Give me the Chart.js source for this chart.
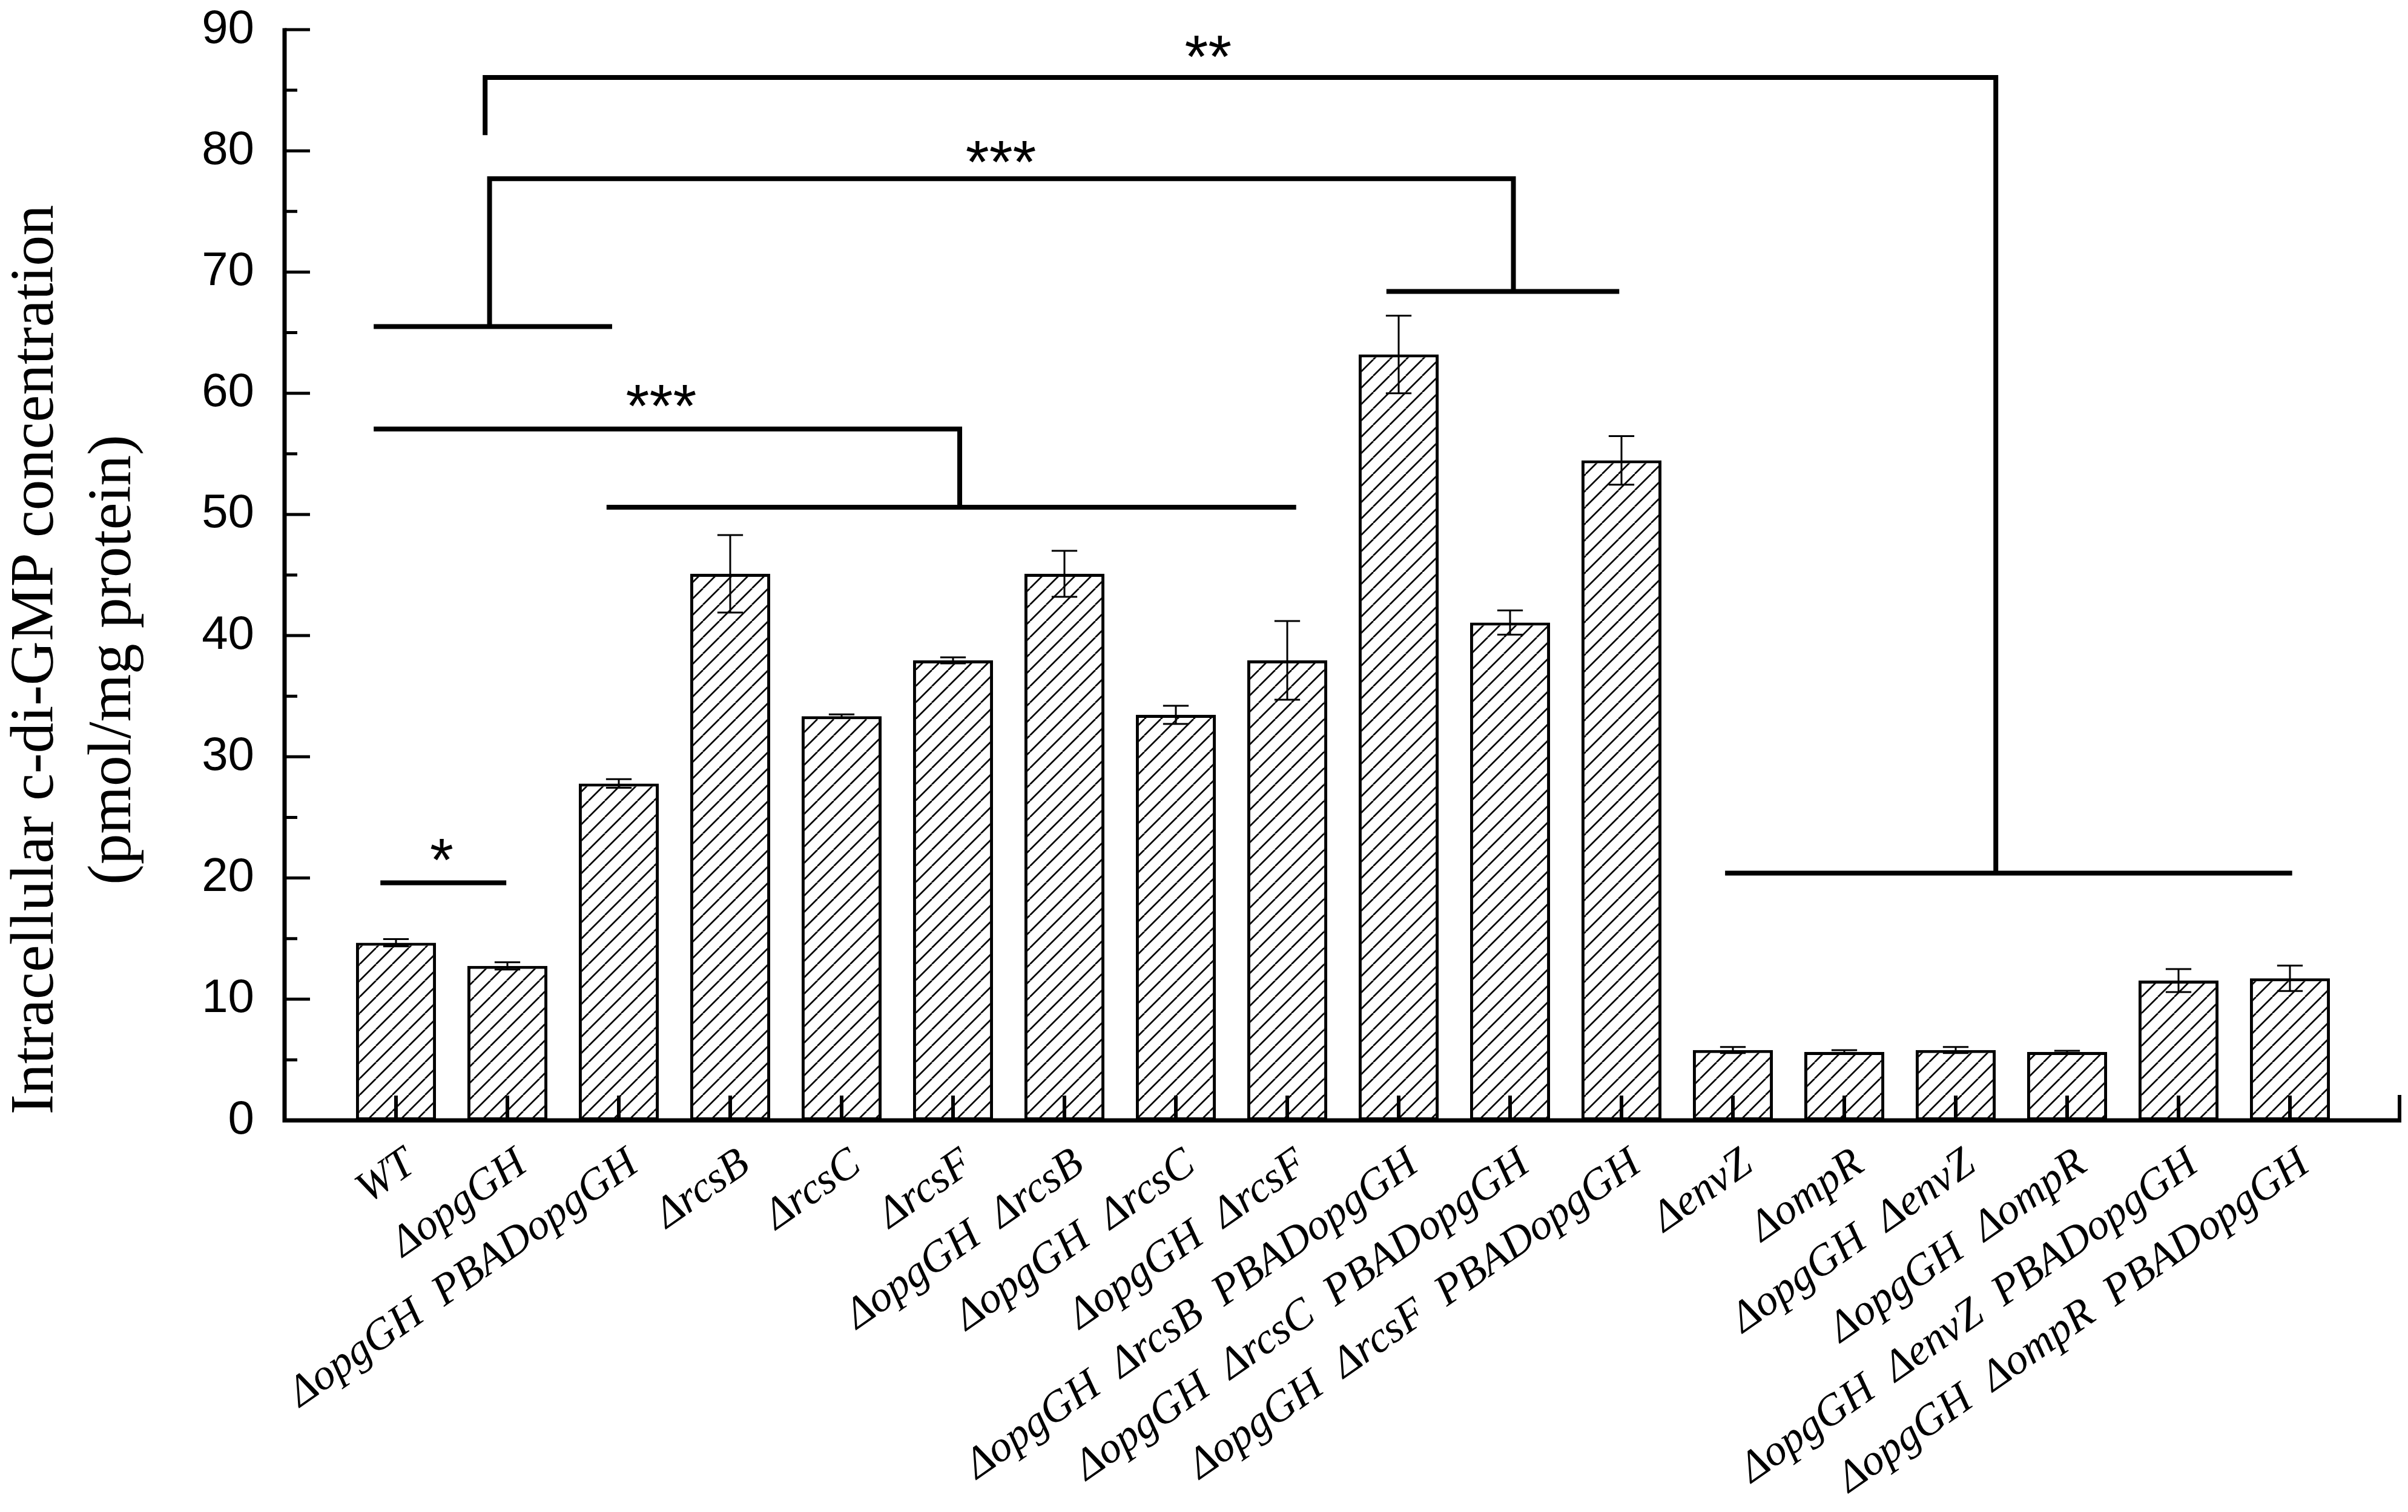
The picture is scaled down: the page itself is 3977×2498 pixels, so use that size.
<!DOCTYPE html>
<html><head><meta charset="utf-8">
<script src="https://cdn.jsdelivr.net/npm/chart.js@4.4.1/dist/chart.umd.min.js"></script>
<style>html,body{margin:0;padding:0;background:#fff;} #wrap{width:3977px;height:2498px;}</style>
</head><body>
<div id="wrap"><canvas id="c" width="3977" height="2498"></canvas></div>
<script>
// ---------- data ----------
const categories = ["WT","ΔopgGH","ΔopgGH  PBADopgGH","ΔrcsB","ΔrcsC","ΔrcsF",
  "ΔopgGH  ΔrcsB","ΔopgGH  ΔrcsC","ΔopgGH  ΔrcsF",
  "ΔopgGH  ΔrcsB  PBADopgGH","ΔopgGH  ΔrcsC  PBADopgGH","ΔopgGH  ΔrcsF  PBADopgGH",
  "ΔenvZ","ΔompR","ΔopgGH  ΔenvZ","ΔopgGH  ΔompR",
  "ΔopgGH  ΔenvZ  PBADopgGH","ΔopgGH  ΔompR  PBADopgGH"];
const means  = [14.66,12.75,27.8,45.1,33.35,37.96,45.1,33.46,37.96,63.2,41.08,54.46,5.81,5.64,5.81,5.64,11.54,11.72];
const errors = [0.3,0.3,0.35,3.2,0.15,0.25,1.9,0.75,3.25,3.2,1.0,2.0,0.25,0.15,0.25,0.1,0.95,1.05];
const yTitleLines = ["Intracellular c-di-GMP concentration","(pmol/mg protein)"];
// significance brackets: polylines in (category index, value) units
const brackets = [
  [[-0.14,19.6],[0.99,19.6]],
  [[-0.2,57.05],[5.06,57.05],[5.06,50.6]],
  [[1.89,50.6],[8.08,50.6]],
  [[-0.2,65.5],[1.94,65.5]],
  [[0.84,65.5],[0.84,77.7],[10.03,77.7],[10.03,68.4]],
  [[8.89,68.4],[10.98,68.4]],
  [[0.80,81.3],[0.80,86.05],[14.36,86.05],[14.36,20.4]],
  [[11.93,20.4],[17.02,20.4]]
];
const sigLabels = [
  {text:"*",   x:0.41, y:22.6},
  {text:"***", x:2.38, y:60.1},
  {text:"***", x:5.43, y:80.2},
  {text:"**",  x:7.29, y:88.9}
];

// ---------- hatch pattern ----------
function makeHatch(){
  const s = 27, c = document.createElement('canvas');
  c.width = s; c.height = s;
  const g = c.getContext('2d');
  g.fillStyle = '#fff'; g.fillRect(0,0,s,s);
  g.strokeStyle = '#000'; g.lineWidth = 2.7;
  g.beginPath();
  for (let k=-1;k<=1;k++){ g.moveTo(k*s, s); g.lineTo(k*s+s, 0); }
  g.stroke();
  return document.getElementById('c').getContext('2d').createPattern(c,'repeat');
}

// ---------- decorations plugin ----------
const deco = {
  id:'deco',
  afterDatasetsDraw(chart){
    const ctx = chart.ctx, xs = chart.scales.x, ys = chart.scales.y, ca = chart.chartArea;
    const meta = chart.getDatasetMeta(0);
    ctx.save();
    ctx.strokeStyle = '#000'; ctx.fillStyle = '#000';
    // error bars
    ctx.lineWidth = 3;
    means.forEach((v,i)=>{
      const x = xs.getPixelForValue(i);
      const bw = meta.data[i].width;
      const cap = bw*0.16;
      const yt = ys.getPixelForValue(v+errors[i]), yb = ys.getPixelForValue(v-errors[i]);
      ctx.beginPath();
      ctx.moveTo(x,yt); ctx.lineTo(x,yb);
      ctx.moveTo(x-cap,yt); ctx.lineTo(x+cap,yt);
      ctx.moveTo(x-cap,yb); ctx.lineTo(x+cap,yb);
      ctx.stroke();
    });
    const y0 = ys.getPixelForValue(0), yTop = ys.getPixelForValue(90);
    // x inward ticks at categories
    ctx.lineWidth = 6;
    ctx.beginPath();
    categories.forEach((c,i)=>{ const x = xs.getPixelForValue(i); ctx.moveTo(x,y0); ctx.lineTo(x,y0-41); });
    ctx.moveTo(ca.right-3,y0); ctx.lineTo(ca.right-3,y0-42);
    ctx.stroke();
    // y inward ticks
    ctx.lineWidth = 5;
    ctx.beginPath();
    for (let v=0; v<=90; v+=5){
      const y = ys.getPixelForValue(v);
      const len = (v%10===0) ? 42 : 21;
      ctx.moveTo(ca.left, y); ctx.lineTo(ca.left+len, y);
    }
    ctx.stroke();
    // axis lines
    ctx.lineWidth = 7;
    ctx.beginPath();
    ctx.moveTo(ca.left-3.5, y0); ctx.lineTo(ca.right, y0);
    ctx.moveTo(ca.left, y0+3.5); ctx.lineTo(ca.left, yTop-2.5);
    ctx.stroke();
    // brackets
    ctx.lineWidth = 8; ctx.lineCap = 'butt'; ctx.lineJoin = 'miter';
    brackets.forEach(pl=>{
      ctx.beginPath();
      pl.forEach((p,k)=>{
        const px = xs.getPixelForValue(p[0]), py = ys.getPixelForValue(p[1]);
        if (k===0) ctx.moveTo(px,py); else ctx.lineTo(px,py);
      });
      ctx.stroke();
    });
    // significance stars
    ctx.font = '100px "Liberation Sans"';
    ctx.textAlign = 'center'; ctx.textBaseline = 'alphabetic';
    sigLabels.forEach(s=>{
      ctx.fillText(s.text, xs.getPixelForValue(s.x), ys.getPixelForValue(s.y)+57);
    });
    // y axis title
    ctx.font = '101px "Liberation Serif"';
    ctx.textAlign = 'center';
    ctx.translate(87, 1090);
    ctx.rotate(-Math.PI/2);
    yTitleLines.forEach((t,k)=> ctx.fillText(t, 0, k*128));
    ctx.restore();
  }
};

const hatch = makeHatch();
new Chart(document.getElementById('c'), {
  type:'bar',
  data:{ datasets:[{
    data: means.map((v,i)=>({x:i, y:v})),
    backgroundColor: hatch,
    borderColor:'#000',
    borderWidth:5,
    borderSkipped:false,
    barPercentage:0.718,
    categoryPercentage:1
  }]},
  options:{
    responsive:false, devicePixelRatio:1, animation:false,
    layout:{ padding:{left:0,right:11,top:49,bottom:0} },
    plugins:{ legend:{display:false}, tooltip:{enabled:false} },
    scales:{
      x:{ type:'linear', min:-1, max:18, offset:false,
        grid:{display:false, drawTicks:false}, border:{display:false},
        ticks:{ stepSize:1, autoSkip:false, minRotation:35, maxRotation:35, padding:30, labelOffset:25,
          color:'#000', font:{family:'"Liberation Serif"', style:'italic', size:72},
          callback:(v)=> (Number.isInteger(v) && v>=0 && v<categories.length) ? categories[v] : '' },
        afterFit(s){ s.height = 647; s.paddingLeft = 0; s.paddingRight = 0; }
      },
      y:{ min:0, max:90,
        grid:{display:false, drawTicks:false}, border:{display:false},
        ticks:{ stepSize:10, padding:50, color:'#000', font:{family:'"Liberation Sans"', size:78} },
        afterFit(s){ s.width = 470; s.paddingTop = 0; s.paddingBottom = 0; }
      }
    }
  },
  plugins:[deco]
});
</script>
</body></html>
